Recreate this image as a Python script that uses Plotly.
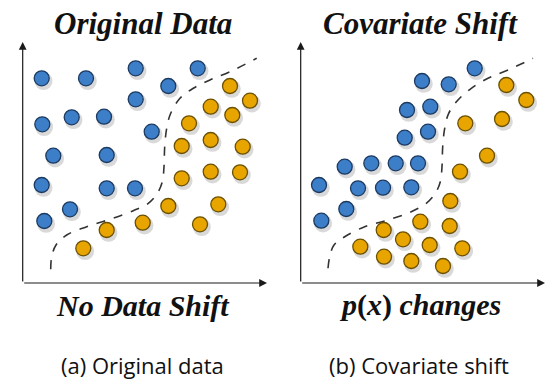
import plotly.graph_objects as go

# ---------------- data (panel-local units, origin at axes corner) ----------------
left_blue_x = [19.0, 63.3, 113.0, 145.6, 175.0, 113.0, 19.6, 49.0, 81.3, 129.0, 30.6, 84.0, 19.0, 84.0, 112.3, 47.3, 21.6]
left_blue_y = [204.7, 204.7, 214.7, 197.0, 214.7, 183.7, 158.7, 165.7, 166.3, 151.3, 127.3, 128.0, 98.0, 94.7, 94.7, 73.7, 62.0]
left_orange_x = [207.3, 227.3, 188.0, 209.6, 166.3, 159.0, 188.0, 220.0, 159.0, 188.0, 217.3, 145.6, 195.6, 120.0, 177.3, 84.0, 60.6]
left_orange_y = [197.0, 182.3, 176.3, 168.0, 159.7, 137.0, 143.0, 136.3, 104.7, 111.3, 110.7, 77.0, 78.7, 60.3, 58.7, 53.0, 34.7]
left_curve_x = [28.0, 29.0, 33.3, 44.0, 64.0, 87.3, 110.6, 125.6, 134.6, 139.6, 141.3, 142.0, 144.0, 148.0, 157.3, 170.6, 187.3, 207.3, 234.0]
left_curve_y = [13.7, 26.3, 38.0, 48.0, 56.3, 63.7, 72.3, 79.7, 89.7, 101.3, 116.3, 136.3, 154.7, 169.7, 184.7, 194.7, 203.0, 211.3, 224.7]

right_blue_x = [174.0, 121.3, 148.0, 106.3, 129.6, 104.0, 127.3, 44.0, 70.6, 95.0, 117.3, 18.3, 57.3, 82.3, 110.6, 45.6, 20.6]
right_blue_y = [214.7, 202.0, 198.7, 173.0, 176.3, 145.3, 151.3, 116.3, 119.7, 119.7, 119.7, 98.0, 94.7, 95.3, 95.7, 74.0, 62.3]
right_orange_x = [205.6, 225.6, 201.3, 164.6, 186.3, 159.3, 149.6, 119.6, 149.0, 83.0, 102.3, 129.0, 161.6, 59.6, 83.3, 110.6, 142.3]
right_orange_y = [198.0, 183.0, 164.0, 159.7, 127.3, 111.3, 82.0, 61.3, 57.0, 53.0, 43.7, 38.0, 34.7, 36.3, 26.3, 22.0, 17.0]
right_curve_x = [27.3, 29.0, 33.3, 44.0, 64.0, 87.3, 110.6, 125.6, 134.6, 139.6, 141.3, 142.0, 144.0, 148.0, 157.3, 170.6, 187.3, 207.3, 232.3]
right_curve_y = [14.7, 26.3, 38.0, 46.3, 56.3, 63.0, 71.3, 79.7, 89.7, 101.3, 116.3, 136.3, 154.7, 169.7, 183.0, 194.7, 204.7, 213.0, 224.7]

titles = ["<b><i>Original Data</i></b>", "<b><i>Covariate Shift</i></b>"]
subtitles = ["<b><i>No Data Shift</i></b>", "<b><i>p</i>(<i>x</i>) <i>changes</i></b>"]
captions = ["(a) Original data", "(b) Covariate shift"]

# ---------------- styling ----------------
W, H = 556, 389
BLUE, BLUE_EDGE = "#3d7ec9", "#1c3a60"
ORANGE, ORANGE_EDGE = "#e8a500", "#6a5000"
SHADOW = "rgba(0,0,0,0.15)"
AX_LEN_X, AX_LEN_Y = 244.3, 241.0
panel_left_px = [22.7, 300.7]
axis_bottom_px = 283.0
SERIF = "Liberation Serif, DejaVu Serif, serif"

fig = go.Figure()

panels = [
    (left_blue_x, left_blue_y, left_orange_x, left_orange_y, left_curve_x, left_curve_y),
    (right_blue_x, right_blue_y, right_orange_x, right_orange_y, right_curve_x, right_curve_y),
]

for i, (bx, by, ox, oy, cx, cy) in enumerate(panels):
    xa = "x" if i == 0 else "x2"
    ya = "y" if i == 0 else "y2"
    fig.add_trace(go.Scatter(x=cx, y=cy, mode="lines", xaxis=xa, yaxis=ya,
                             line=dict(color="#333333", width=1.6, dash="dash", shape="spline", smoothing=1.0),
                             hoverinfo="skip", showlegend=False))
    for px, py, col, edge in [(bx, by, BLUE, BLUE_EDGE), (ox, oy, ORANGE, ORANGE_EDGE)]:
        fig.add_trace(go.Scatter(x=[v + 1.8 for v in px], y=[v - 2.8 for v in py], mode="markers",
                                 xaxis=xa, yaxis=ya, cliponaxis=False,
                                 marker=dict(size=18, color=SHADOW, line=dict(width=0)),
                                 hoverinfo="skip", showlegend=False))
        fig.add_trace(go.Scatter(x=px, y=py, mode="markers", xaxis=xa, yaxis=ya, cliponaxis=False,
                                 marker=dict(size=15, color=col, line=dict(color=edge, width=1.3)),
                                 showlegend=False))

for i in range(2):
    x0 = panel_left_px[i] / W
    x1 = (panel_left_px[i] + AX_LEN_X) / W
    y0 = (H - axis_bottom_px) / H
    y1 = (H - axis_bottom_px + AX_LEN_Y) / H
    key = "" if i == 0 else "2"
    fig.update_layout(**{
        f"xaxis{key}": dict(domain=[x0, x1], range=[0, AX_LEN_X], visible=False, fixedrange=True,
                           **({} if i == 0 else {"anchor": "y2"})),
        f"yaxis{key}": dict(domain=[y0, y1], range=[0, AX_LEN_Y], visible=False, fixedrange=True,
                           **({} if i == 0 else {"anchor": "x2"})),
    })
    xr, yr = ("x", "y") if i == 0 else ("x2", "y2")
    for hx, hy in [(AX_LEN_X, 0), (0, AX_LEN_Y)]:
        fig.add_annotation(x=hx, y=hy, ax=0, ay=0, xref=xr, yref=yr, axref=xr, ayref=yr,
                           text="", showarrow=True, arrowhead=2, arrowsize=1.3, arrowwidth=1.2,
                           arrowcolor="#1a1a1a", standoff=0, startstandoff=0)

centers = [143, 420]
for i in range(2):
    cxp = centers[i] / W
    fig.add_annotation(x=cxp, y=1 - 23 / H, xref="paper", yref="paper", text=titles[i],
                       showarrow=False, xanchor="center", yanchor="middle",
                       font=dict(family=SERIF, size=31, color="#111111"))
    fig.add_annotation(x=cxp, y=1 - 305 / H, xref="paper", yref="paper", text=subtitles[i],
                       showarrow=False, xanchor="center", yanchor="middle",
                       font=dict(family=SERIF, size=30, color="#111111"))
    fig.add_annotation(x=(centers[i] - 1) / W, y=1 - 365 / H, xref="paper", yref="paper", text=captions[i],
                       showarrow=False, xanchor="center", yanchor="middle",
                       font=dict(family="Open Sans, sans-serif", size=22, color="#111111"))

fig.update_layout(width=W, height=H, margin=dict(l=0, r=0, t=0, b=0),
                  paper_bgcolor="white", plot_bgcolor="white", showlegend=False)

fig.write_html("out.html", config={"displayModeBar": False})
